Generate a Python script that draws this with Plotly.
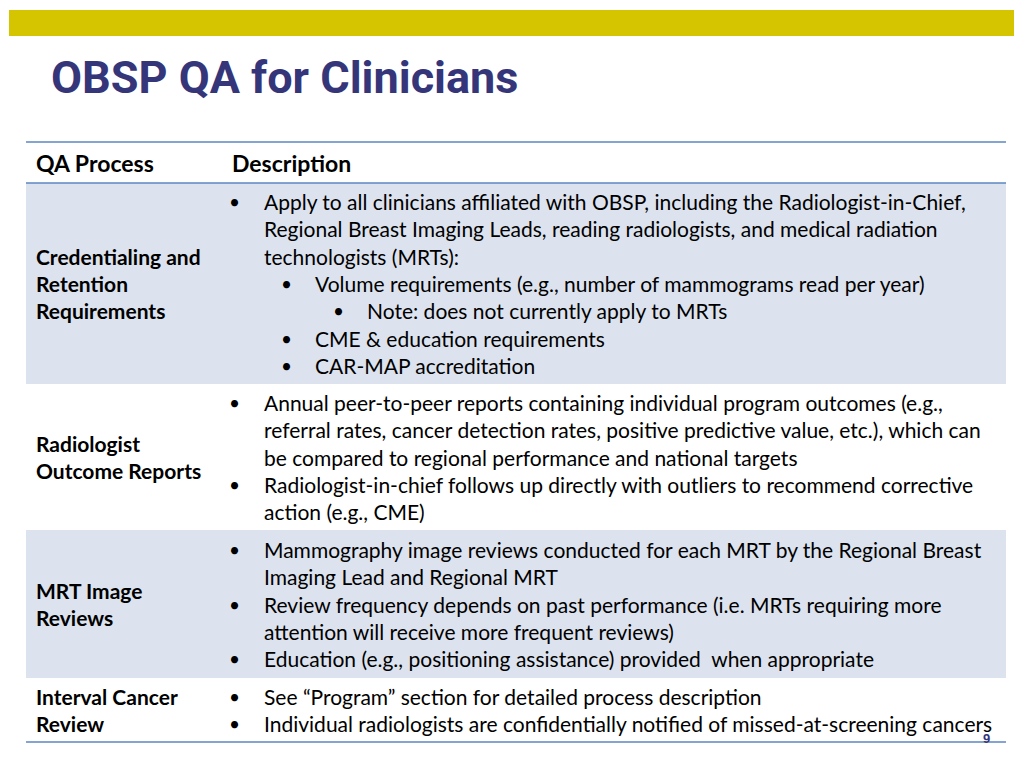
import plotly.graph_objects as go

W, H = 1024, 768

title = "OBSP QA for Clinicians"
headers = ["QA Process", "Description"]

# process names (lines) per row
processes = [
    ["Credentialing and", "Retention", "Requirements"],
    ["Radiologist", "Outcome Reports"],
    ["MRT Image", "Reviews"],
    ["Interval Cancer", "Review"],
]

# description lines per row: (indent level, bullet?, text)
descriptions = [
    [
        (0, True, "Apply to all clinicians affiliated with OBSP, including the Radiologist-in-Chief,"),
        (0, False, "Regional Breast Imaging Leads, reading radiologists, and medical radiation"),
        (0, False, "technologists (MRTs):"),
        (1, True, "Volume requirements (e.g., number of mammograms read per year)"),
        (2, True, "Note: does not currently apply to MRTs"),
        (1, True, "CME & education requirements"),
        (1, True, "CAR-MAP accreditation"),
    ],
    [
        (0, True, "Annual peer-to-peer reports containing individual program outcomes (e.g.,"),
        (0, False, "referral rates, cancer detection rates, positive predictive value, etc.), which can"),
        (0, False, "be compared to regional performance and national targets"),
        (0, True, "Radiologist-in-chief follows up directly with outliers to recommend corrective"),
        (0, False, "action (e.g., CME)"),
    ],
    [
        (0, True, "Mammography image reviews conducted for each MRT by the Regional Breast"),
        (0, False, "Imaging Lead and Regional MRT"),
        (0, True, "Review frequency depends on past performance (i.e. MRTs requiring more"),
        (0, False, "attention will receive more frequent reviews)"),
        (0, True, "Education (e.g., positioning assistance) provided  when appropriate"),
    ],
    [
        (0, True, "See \u201cProgram\u201d section for detailed process description"),
        (0, True, "Individual radiologists are confidentially notified of missed-at-screening cancers"),
    ],
]
page_number = "9"

# layout in pixels (page coordinates); the page body adds an 8px offset
OX, OY = 8, 8
row_bounds = [(183, 384), (384, 530), (530, 678), (678, 742)]
row_fill = ["#DCE3EE", "#FFFFFF", "#DCE3EE", "#FFFFFF"]
line_h = 27.4
tab_left, tab_right = 26, 1006
bullet_x = [234, 286, 338]
text_x = [262, 313, 365]

FONT = "Lato"
FS = 21

def px(x):
    return (x - OX) / W

def py(y):
    return 1 - (y - OY) / H

fig = go.Figure()
shapes = []
ann = []

# yellow top bar
shapes.append(dict(type="rect", xref="paper", yref="paper", x0=px(9), x1=px(1014), y0=py(36), y1=py(10),
                   fillcolor="#D5C500", line=dict(width=0), layer="below"))

# row backgrounds
for (y0, y1), c in zip(row_bounds, row_fill):
    shapes.append(dict(type="rect", xref="paper", yref="paper", x0=px(tab_left), x1=px(tab_right),
                       y0=py(y1), y1=py(y0), fillcolor=c, line=dict(width=0), layer="below"))

# table lines
for y in [142, 183, 742]:
    shapes.append(dict(type="line", xref="paper", yref="paper", x0=px(tab_left), x1=px(tab_right),
                       y0=py(y), y1=py(y), line=dict(color="#5B87C0", width=1.3)))

# title
ann.append(dict(text="<b>" + title + "</b>", x=px(49), y=py(77), xref="paper", yref="paper",
                xanchor="left", yanchor="middle", showarrow=False,
                font=dict(family="Roboto", size=45, color="#35357A")))

# headers
for hx, ht in zip([34, 230], headers):
    ann.append(dict(text="<b>" + ht + "</b>", x=px(hx), y=py(163), xref="paper", yref="paper",
                    xanchor="left", yanchor="middle", showarrow=False,
                    font=dict(family=FONT, size=23, color="black")))

for (y0, y1), proc, desc in zip(row_bounds, processes, descriptions):
    mid = (y0 + y1) / 2
    n = len(proc)
    for i, t in enumerate(proc):
        yy = mid + (i - (n - 1) / 2) * line_h
        ann.append(dict(text="<b>" + t + "</b>", x=px(34), y=py(yy), xref="paper", yref="paper",
                        xanchor="left", yanchor="middle", showarrow=False,
                        font=dict(family=FONT, size=FS, color="black")))
    m = len(desc)
    for i, (lvl, bul, t) in enumerate(desc):
        yy = mid + (i - (m - 1) / 2) * line_h
        if bul:
            ann.append(dict(text="\u2022", x=px(bullet_x[lvl]), y=py(yy), xref="paper", yref="paper",
                            xanchor="center", yanchor="middle", showarrow=False,
                            font=dict(family=FONT, size=FS - 2, color="black")))
        ann.append(dict(text=t, x=px(text_x[lvl]), y=py(yy), xref="paper", yref="paper",
                        xanchor="left", yanchor="middle", showarrow=False,
                        font=dict(family=FONT, size=FS, color="black")))

# page number
ann.append(dict(text="<b>" + page_number + "</b>", x=px(986), y=py(738), xref="paper", yref="paper",
                xanchor="center", yanchor="middle", showarrow=False,
                font=dict(family="Liberation Sans", size=13, color="#35357A")))

fig.update_layout(width=W, height=H, margin=dict(l=0, r=0, t=0, b=0),
                  paper_bgcolor="white", plot_bgcolor="white",
                  xaxis=dict(visible=False), yaxis=dict(visible=False),
                  shapes=shapes, annotations=ann, showlegend=False)

fig.write_html("out.html")
